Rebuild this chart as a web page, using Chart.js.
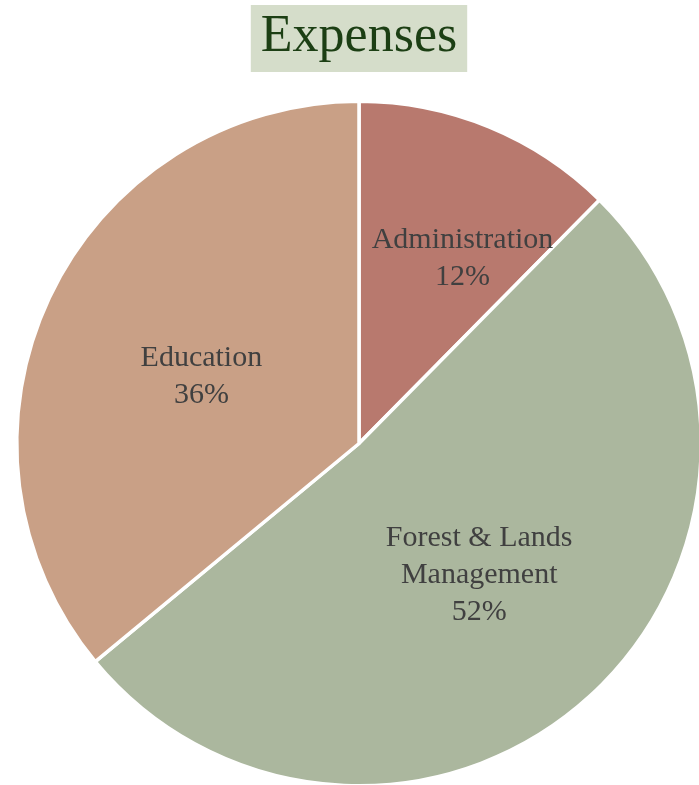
<!DOCTYPE html>
<html>
<head>
<meta charset="utf-8">
<script src="https://cdn.jsdelivr.net/npm/chart.js@4.4.1/dist/chart.umd.min.js"></script>
<style>
  html, body { margin: 0; padding: 0; background: #fff; overflow: hidden; }
  #wrap { width: 710px; height: 800px; position: relative; }
</style>
</head>
<body>
<div id="wrap"><canvas id="chart"></canvas></div>
<script>
const categories = ['Administration', 'Forest & Lands Management', 'Education'];
const labelLines = [['Administration'], ['Forest & Lands', 'Management'], ['Education']];
const shares = [12.4, 51.6, 36.0];
const sliceColors = ['#b8796e', '#abb79e', '#c9a086'];

// where each label sits: fraction of radius, and small angle nudge (radians)
const labelRadius = [0.62, 0.52, 0.5];
const labelNudge = [0.12, 0.0, -0.04];

const titleBox = {
  id: 'titleBox',
  beforeDraw(chart) {
    const ctx = chart.ctx;
    const tb = chart.titleBlock;
    ctx.save();
    ctx.font = '52px "Liberation Serif", serif';
    const w = ctx.measureText('Expenses').width + 20;
    const cx = (tb.left + tb.right) / 2;
    ctx.fillStyle = '#d5ddca';
    ctx.fillRect(cx - w / 2, 5, w, 67);
    ctx.restore();
  }
};

const sliceLabels = {
  id: 'sliceLabels',
  afterDatasetsDraw(chart) {
    const ctx = chart.ctx;
    const meta = chart.getDatasetMeta(0);
    ctx.save();
    ctx.fillStyle = '#404040';
    ctx.font = '30px "Liberation Serif", serif';
    ctx.textAlign = 'center';
    ctx.textBaseline = 'middle';
    meta.data.forEach((arc, i) => {
      const p = arc.getProps(['x', 'y', 'startAngle', 'endAngle', 'outerRadius'], true);
      const mid = (p.startAngle + p.endAngle) / 2 + labelNudge[i];
      const r = p.outerRadius * labelRadius[i];
      const x = p.x + Math.cos(mid) * r;
      const y = p.y + Math.sin(mid) * r;
      const lines = labelLines[i].concat([Math.round(shares[i]) + '%']);
      const lh = 37;
      const top = y - (lines.length - 1) * lh / 2;
      lines.forEach((t, k) => ctx.fillText(t, x, top + k * lh));
    });
    ctx.restore();
  }
};

new Chart(document.getElementById('chart'), {
  type: 'pie',
  data: {
    labels: categories,
    datasets: [{
      data: shares,
      backgroundColor: sliceColors,
      borderColor: '#ffffff',
      borderWidth: 3.5,
      hoverOffset: 0
    }]
  },
  options: {
    responsive: true,
    maintainAspectRatio: false,
    animation: false,
    layout: { padding: { left: 15, right: 7, top: 0, bottom: 12 } },
    plugins: {
      legend: { display: false },
      tooltip: { enabled: false },
      title: {
        display: true,
        text: 'Expenses',
        color: '#1c3f14',
        font: { family: '"Liberation Serif", serif', size: 52, weight: 'normal' },
        padding: { top: 6, bottom: 30.6 }
      }
    }
  },
  plugins: [titleBox, sliceLabels]
});
</script>
</body>
</html>
